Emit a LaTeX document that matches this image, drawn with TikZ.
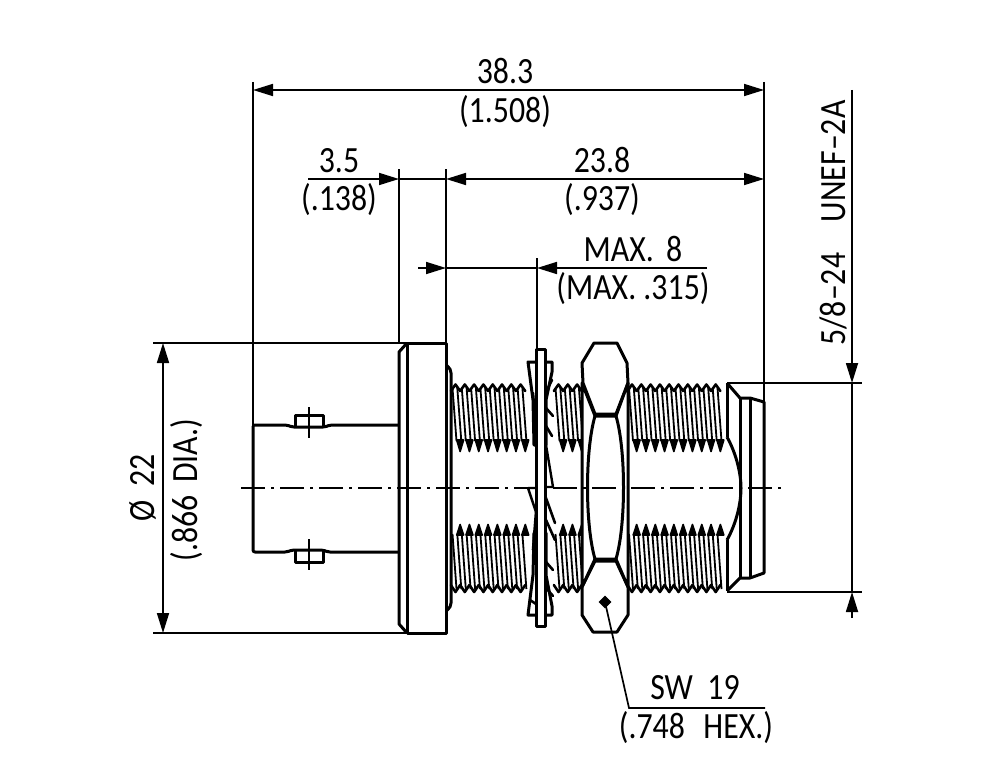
\documentclass[tikz,border=0pt]{standalone}
\usepackage{fontspec}
\setmainfont[FakeStretch=0.86]{Carlito}
\usetikzlibrary{arrows.meta}

% one run of thread, crests every 9.3 between #1 and #2
\newcommand{\threadpart}[2]{
  \pgfmathsetmacro{\nteeth}{int((#2-#1)/9.3)}
  \foreach \i in {0,...,\nteeth} {
    \pgfmathsetmacro{\c}{#1+\i*9.3}
    \draw[hatch] (\c-3,388) -- (\c+1,441);
    \draw[hatch] (\c+1.8,388) -- (\c+5.8,441);
    \draw[hatch] (\c-3,534) -- (\c+1,589);
    \draw[hatch] (\c+1.8,534) -- (\c+5.8,589);
    \draw[thick edge] (\c-4.65,391) -- (\c,384.5) -- (\c+4.65,391);
    \draw[tooth] (\c+1.2,440) -- (\c+4.65,451.5) -- (\c+8.1,440) -- cycle;
    \draw[tooth] (\c+1.2,535) -- (\c+4.65,524.5) -- (\c+8.1,535) -- cycle;
    \draw[thick edge] (\c-4.65,585) -- (\c,592) -- (\c+4.65,585);
  }
}

\begin{document}
\begin{tikzpicture}
  [x=1pt, y=-1pt,
   outline/.style={line width=3pt, line join=round},
   thick edge/.style={line width=2.6pt, line join=round, line cap=round},
   tooth/.style={line width=1.6pt, line join=round, fill=black},
   hatch/.style={line width=1.8pt},
   dimline/.style={line width=1.7pt},
   dimboth/.style={dimline, {Triangle[length=20pt,width=12pt]}-{Triangle[length=20pt,width=12pt]}},
   dimend/.style={dimline, -{Triangle[length=20pt,width=12pt]}},
   centerline/.style={line width=1.5pt, dash pattern=on 24pt off 6pt on 3pt off 6pt},
   every node/.style={inner sep=0pt, font=\fontsize{37}{37}\selectfont}]
  \useasboundingbox[fill=white] (0,0) rectangle (1000,765);

  % threads
  \threadpart{455.5}{525}
  \threadpart{558.5}{578}
  \threadpart{632}{722}

  % bnc body and bayonet pins
  \draw[outline, rounded corners=2pt] (399,425) -- (330,425) -- (325,427) -- (292,427) -- (287,425)
    -- (253,425) -- (253,552) -- (287,552) -- (292,550) -- (323,550) -- (328,552) -- (399,552);
  \draw[outline] (295,427) -- (295,415) -- (323,415) -- (323,427);
  \draw[outline] (295,550) -- (295,562) -- (323,562) -- (323,550);
  \draw[dimline] (309,407) -- (309,438) (309,539) -- (309,570);

  % flange
  \draw[outline] (407,343) -- (446,343) -- (446,633) -- (407,633) -- cycle;
  \draw[outline] (407,343) -- (399,352) -- (399,624) -- (407,633);
  \draw[outline, rounded corners=4pt] (446,365) -- (451,369) -- (451,607) -- (446,611);

  % lock washer
  \draw[outline, fill=white] (528,362) -- (552,362) -- (552,372) -- (546,400) -- (546,445) -- (534,445)
    -- (533,400) -- cycle;
  \draw[outline, fill=white] (528,615) -- (552,615) -- (552,606) -- (546,575) -- (546,533) -- (534,533)
    -- (533,575) -- cycle;
  \draw[thick edge] (533,393) -- (536,432) (546,392) -- (552,380) (546,408) -- (553,416)
    (546,426) -- (552,436) (533,550) -- (536,512) (546,520) -- (555,540) (546,562) -- (553,570)
    (546,588) -- (553,596) (530,600) -- (545,610);
  \draw[line width=2.4pt] (546,445) -- (553,487) -- (546,487);
  \draw[line width=2.4pt] (528,488) -- (536,488) (528,488) -- (536,512);
  \draw[thick edge] (546,498) -- (555,523);
  \draw[outline, fill=white] (536,349) rectangle (545,626);

  % nut
  \draw[outline, fill=white] (594,343) -- (617,343) -- (627,363) -- (628,383) -- (616,414) -- (595,414)
    -- (583,383) -- (582,363) -- cycle;
  \draw[outline, fill=white] (595,561) -- (616,561) -- (628,587) -- (628,615) -- (617,632) -- (593,632)
    -- (582,615) -- (582,587) -- cycle;
  \draw[outline, fill=white] (582,383) -- (595,416) -- (616,416) -- (628,383) -- (628,587) -- (616,559)
    -- (595,559) -- (582,587) -- cycle;
  \draw[outline, fill=white] (595,416) .. controls (585,450) and (585,525) .. (595,559)
    -- (616,559) .. controls (626,525) and (626,450) .. (616,416) -- cycle;

  % front part of the connector
  \draw[outline] (727,383) -- (727,437) (727,540) -- (727,591);
  \draw[outline] (727,383) -- (740,398) -- (750,398) -- (764,402) -- (764,573) -- (750,578) -- (740,578) -- (727,591);
  \draw[outline] (740,398) -- (740,578) (750,398) -- (750,578);
  \draw[outline] (727,437) .. controls (737,455) and (741,475) .. (741,488) .. controls (741,502) and (737,522) .. (727,540);

  \draw[centerline] (241,488) -- (783,488);

  % extension lines
  \draw[dimline] (253,82) -- (253,425);
  \draw[dimline] (764,82) -- (764,402);
  \draw[dimline] (399,169) -- (399,343);
  \draw[dimline] (446,169) -- (446,343);
  \draw[dimline] (537,258) -- (537,349);
  \draw[dimline] (153,343) -- (407,343);
  \draw[dimline] (153,633) -- (407,633);
  \draw[dimline] (727,383) -- (862,383);
  \draw[dimline] (727,592) -- (862,592);

  % dimensions
  \draw[dimboth] (253,90) -- (764,90);
  \draw[dimend] (308,179) -- (399,179);
  \draw[dimline] (399,179) -- (446,179);
  \draw[dimboth] (446,179) -- (764,179);
  \draw[dimend] (418,268) -- (446,268);
  \draw[dimline] (446,268) -- (537,268);
  \draw[dimend] (707,268) -- (537,268);
  \draw[dimboth] (163,343) -- (163,633);
  \draw[dimend] (852,90) -- (852,383);
  \draw[dimline] (852,383) -- (852,592);
  \draw[dimend] (852,618) -- (852,592);

  % wrench size leader
  \draw[fill=black] (605,596) -- (611,602) -- (605,608) -- (599,602) -- cycle;
  \draw[dimline] (605,602) -- (629,708) -- (765,708);

  % labels
  \node (total)   at (505,71)  {38.3};
  \node (totalin) at (505,112) {(1.508)};
  \node (flange)   at (339,161) {3.5};
  \node (flangein) at (339,200) {(.138)};
  \node (body)   at (602,160) {23.8};
  \node (bodyin) at (602,200) {(.937)};
  \node (panel)   at (633,249) {MAX.\,\,8};
  \node (panelin) at (633,289) {(MAX. .315)};
  \node (wrench)   at (695,688) {SW\ \ 19};
  \node (wrenchin) at (696,728) {(.748\,\,\,HEX.)};
  \node[rotate=90] (dia)   at (143,488) {Ø\ \ 22};
  \node[rotate=90] (diain) at (187,490) {(.866\,\,DIA.)};
  \node[rotate=90] (threadlabel) at (833,223) {5/8–24\,\,\,\,\,UNEF–2A};
\end{tikzpicture}
\end{document}
